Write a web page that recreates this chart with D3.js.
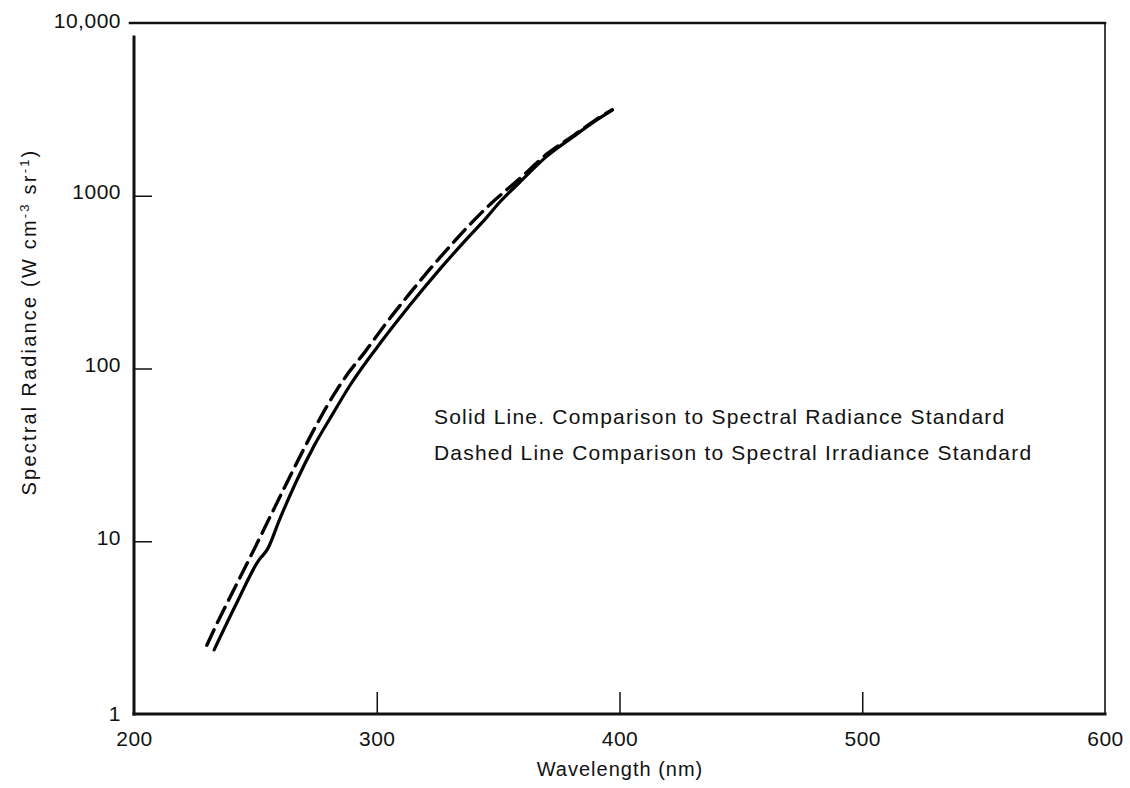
<!DOCTYPE html>
<html>
<head>
<meta charset="utf-8">
<script src="https://cdn.jsdelivr.net/npm/d3@7"></script>
<style>
  html, body { margin: 0; padding: 0; background: #fff; }
  svg { display: block; }
  text { font-family: "Liberation Sans", Arial, Helvetica, sans-serif; fill: #111; }
</style>
</head>
<body>
<svg id="chart" width="1130" height="788"></svg>
<script>
// ---- data ----
const xTicks = [200, 300, 400, 500, 600];
const yTicks = [1, 10, 100, 1000, 10000];
const yTickLabels = ["1", "10", "100", "1000", "10,000"];

// Solid line: comparison to spectral radiance standard
const solidWavelength = [233, 242, 251.5, 255, 260, 267, 274, 282, 289, 302.7, 313.7, 326, 337, 345.3, 350.7, 359, 370, 381, 389, 397];
const solidRadiance   = [2.35, 4.3, 7.8, 9.0, 13.4, 22.4, 35.3, 55, 80, 148, 233, 376, 561, 750, 920, 1200, 1690, 2200, 2650, 3130];

// Dashed line: comparison to spectral irradiance standard
const dashedWavelength = [230, 234, 241, 249, 256, 262, 268.4, 275.3, 283.5, 288.5, 295, 302.7, 313.6, 323.2, 333.5, 338.3, 347, 359, 370, 381, 389, 397];
const dashedRadiance   = [2.5, 3.3, 5.2, 8.7, 13.8, 20.5, 31, 47.5, 75, 95, 124, 174, 272, 395, 575, 680, 900, 1260, 1740, 2230, 2680, 3150];

const noteLines = [
  "Solid Line. Comparison to Spectral Radiance Standard",
  "Dashed Line  Comparison to Spectral Irradiance Standard"
];
const xTitle = "Wavelength (nm)";

// ---- layout ----
const svg = d3.select("#chart");
const mLeft = 134, mRight = 1105, mTop = 23, mBottom = 714;
const FONT = '"Liberation Sans", Arial, sans-serif';

const x = d3.scaleLinear().domain([200, 600]).range([mLeft, mRight]);
const y = d3.scaleLog().domain([1, 10000]).range([mBottom, mTop]);

// axes with inward ticks
const xAxis = d3.axisBottom(x).tickValues(xTicks).tickSizeInner(-22).tickSizeOuter(0)
  .tickPadding(17).tickFormat(d3.format("d"));
const gx = svg.append("g").attr("transform", `translate(0,${mBottom})`).call(xAxis);
gx.select(".domain").remove();
gx.selectAll(".tick line").attr("stroke", "#111").attr("stroke-width", 1.5)
  .filter(d => d === 200 || d === 600).remove();
gx.selectAll(".tick text").attr("font-size", 21).attr("fill", "#111")
  .attr("font-family", FONT).attr("letter-spacing", 0.5);

const yAxis = d3.axisLeft(y).tickValues(yTicks).tickSizeInner(-18).tickSizeOuter(0)
  .tickPadding(13).tickFormat(d => yTickLabels[yTicks.indexOf(d)]);
const gy = svg.append("g").attr("transform", `translate(${mLeft},0)`).call(yAxis);
gy.select(".domain").remove();
gy.selectAll(".tick line").attr("stroke", "#111").attr("stroke-width", 1.5)
  .filter(d => d === 1 || d === 10000).remove();
gy.selectAll(".tick text").attr("font-size", 21).attr("fill", "#111")
  .attr("font-family", FONT).attr("letter-spacing", 0.5)
  .attr("dy", d => d === 10000 ? "0.2em" : d === 1 ? "0.32em" : "0.15em");

// frame
const frame = svg.append("g").attr("stroke", "#111").attr("fill", "none").attr("stroke-linecap", "square");
frame.append("line").attr("x1", x(200) - 4).attr("x2", x(600)).attr("y1", y(10000)).attr("y2", y(10000)).attr("stroke-width", 2.5);
frame.append("line").attr("x1", x(600)).attr("x2", x(600)).attr("y1", y(10000)).attr("y2", y(1)).attr("stroke-width", 1.6);
frame.append("line").attr("x1", x(200)).attr("x2", x(200)).attr("y1", y(10000) + 14).attr("y2", y(1)).attr("stroke-width", 3);
frame.append("line").attr("x1", x(200)).attr("x2", x(600)).attr("y1", y(1)).attr("y2", y(1)).attr("stroke-width", 3);

// curves
const line = d3.line().x(d => x(d[0])).y(d => y(d[1])).curve(d3.curveMonotoneX);
const solid = d3.zip(solidWavelength, solidRadiance);
const dashed = d3.zip(dashedWavelength, dashedRadiance);

svg.append("path").datum(dashed).attr("d", line)
  .attr("fill", "none").attr("stroke", "#000").attr("stroke-width", 3.4)
  .attr("stroke-dasharray", "17,8").attr("stroke-linecap", "round");
svg.append("path").datum(solid).attr("d", line)
  .attr("fill", "none").attr("stroke", "#000").attr("stroke-width", 3.2)
  .attr("stroke-linecap", "round");

// annotation
svg.append("g").selectAll("text").data(noteLines).join("text")
  .attr("x", 434).attr("y", (d, i) => 424 + i * 36)
  .attr("font-size", 21).attr("letter-spacing", 1.2)
  .text(d => d);

// axis titles
svg.append("text").attr("x", 620).attr("y", 776)
  .attr("text-anchor", "middle").attr("font-size", 20).attr("letter-spacing", 1)
  .text(xTitle);

const yt = svg.append("text")
  .attr("transform", `translate(36,322) rotate(-90)`)
  .attr("text-anchor", "middle").attr("font-size", 20).attr("letter-spacing", 2.2);
yt.append("tspan").text("Spectral Radiance (W cm");
yt.append("tspan").attr("baseline-shift", "super").attr("font-size", 13).text("-3");
yt.append("tspan").text(" sr");
yt.append("tspan").attr("baseline-shift", "super").attr("font-size", 13).text("-1");
yt.append("tspan").text(")");
</script>
</body>
</html>
